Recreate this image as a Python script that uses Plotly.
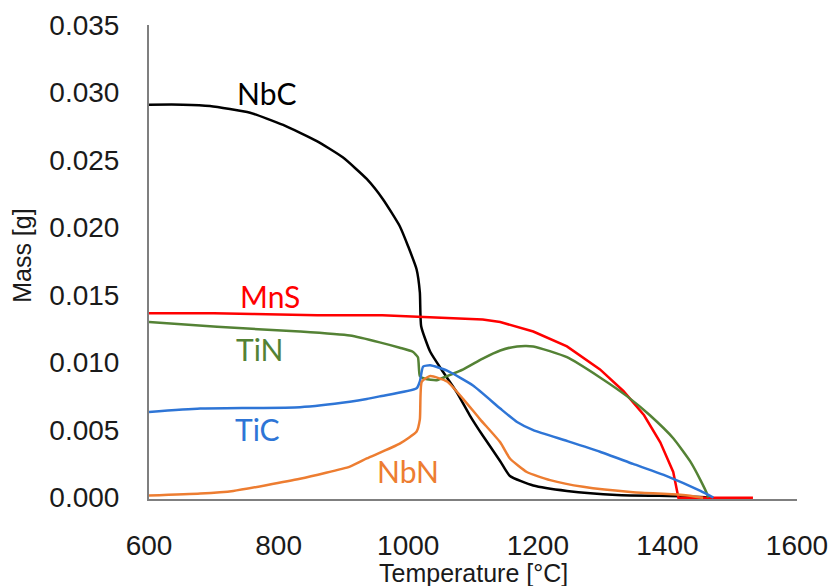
import plotly.graph_objects as go

# ---- data ----
nbc_T = [600, 652, 694, 756, 807, 859, 899, 936, 961, 987, 1000, 1013, 1018, 1020, 1034, 1054, 1075, 1095, 1115, 1142, 1157, 1193, 1245, 1322, 1424, 1466]
nbc_m = [0.0291, 0.0291, 0.0290, 0.0285, 0.0276, 0.0264, 0.0252, 0.0236, 0.0221, 0.0201, 0.0186, 0.0169, 0.0152, 0.0127, 0.0108, 0.0093, 0.0078, 0.0061, 0.0046, 0.0027, 0.0016, 0.0009, 0.0005, 0.0002, 0.0001, 0.0]

mns_T = [600, 700, 760, 860, 960, 1018, 1080, 1115, 1142, 1193, 1245, 1296, 1332, 1364, 1389, 1409, 1417, 1532]
mns_m = [0.01366, 0.01366, 0.0136, 0.0135, 0.0135, 0.0134, 0.0133, 0.0132, 0.0130, 0.0123, 0.0112, 0.0095, 0.0079, 0.0061, 0.0041, 0.0019, 0.0, 0.0]

tin_T = [600, 705, 833, 910, 956, 987, 1007, 1015, 1018, 1026, 1044, 1060, 1085, 1115, 1142, 1168, 1193, 1245, 1296, 1338, 1373, 1409, 1435, 1451, 1461, 1463]
tin_m = [0.0130, 0.01265, 0.0123, 0.0120, 0.0115, 0.0111, 0.0108, 0.0104, 0.0090, 0.0088, 0.0087, 0.0090, 0.0095, 0.0103, 0.0109, 0.0112, 0.0112, 0.0104, 0.0089, 0.0075, 0.0061, 0.0044, 0.0027, 0.0013, 0.0003, 0.0]

tic_T = [600, 679, 833, 910, 936, 956, 1013, 1018, 1023, 1034, 1060, 1100, 1142, 1168, 1193, 1245, 1296, 1347, 1399, 1451, 1471]
tic_m = [0.00635, 0.0066, 0.0067, 0.0071, 0.0073, 0.0075, 0.0081, 0.0086, 0.0097, 0.0098, 0.0094, 0.0083, 0.0066, 0.0056, 0.0050, 0.0042, 0.0034, 0.0025, 0.0016, 0.0005, 0.0]

nbn_T = [600, 679, 730, 833, 910, 936, 987, 1013, 1018, 1021, 1034, 1060, 1085, 1111, 1142, 1157, 1183, 1219, 1270, 1347, 1424, 1455]
nbn_m = [0.00015, 0.0003, 0.0005, 0.0014, 0.0023, 0.0029, 0.0040, 0.0049, 0.0058, 0.0086, 0.0090, 0.0086, 0.0073, 0.0058, 0.0041, 0.0029, 0.0019, 0.0013, 0.0008, 0.0004, 0.0002, 0.0]

series = [
    ("NbC", nbc_T, nbc_m, "#000000", "spline"),
    ("MnS", mns_T, mns_m, "#FF0000", "linear"),
    ("TiN", tin_T, tin_m, "#548235", "spline"),
    ("TiC", tic_T, tic_m, "#2E75D6", "spline"),
    ("NbN", nbn_T, nbn_m, "#ED7D31", "spline"),
]

label_pos = {
    "NbC": (782, 0.0300),
    "MnS": (787, 0.0149),
    "TiN": (771, 0.0110),
    "TiC": (768, 0.0051),
    "NbN": (1000, 0.0020),
}

fig = go.Figure()
for name, xs, ys, col, shp in series:
    line = dict(color=col, width=2.5, shape=shp)
    if shp == "spline":
        line["smoothing"] = 0.5
    fig.add_trace(go.Scatter(x=xs, y=ys, mode="lines", name=name, line=line,
                             showlegend=False))
for name, xs, ys, col, shp in series:
    lx, ly = label_pos[name]
    fig.add_annotation(x=lx, y=ly, text=name, showarrow=False,
                       font=dict(family="Lato, Noto Sans", size=30, color=col))

tickfont = dict(family="Liberation Sans, Arial", size=28, color="#1a1a1a")
titlefont = dict(family="Liberation Sans, Arial", size=25, color="#1a1a1a")

fig.add_annotation(xref="paper", yref="paper", x=0.5, y=-0.156, text="Temperature [°C]",
                   showarrow=False, font=titlefont, xanchor="center", yanchor="middle")
fig.add_annotation(xref="paper", yref="paper", x=-0.196, y=0.513, text="Mass [g]",
                   showarrow=False, font=titlefont, textangle=-90,
                   xanchor="center", yanchor="middle")

fig.update_layout(
    width=833, height=586,
    margin=dict(l=149, r=36, t=25, b=87),
    paper_bgcolor="white", plot_bgcolor="white",
    xaxis=dict(range=[600, 1600], dtick=200, tick0=600, showgrid=False, zeroline=False,
               showline=True, linecolor="#7f7f7f", linewidth=2, ticks="",
               tickfont=tickfont, ticklabelstandoff=20, layer="below traces",
               automargin=False),
    yaxis=dict(range=[-0.0001, 0.035], dtick=0.005, tick0=0, tickformat=".3f",
               showgrid=False, zeroline=False,
               showline=True, linecolor="#7f7f7f", linewidth=2, ticks="",
               tickfont=tickfont, ticklabelstandoff=22, layer="below traces",
               automargin=False),
)

fig.write_html("out.html", config={"displayModeBar": False},
               post_script="document.body.style.margin='0';document.body.style.overflow='hidden';")
